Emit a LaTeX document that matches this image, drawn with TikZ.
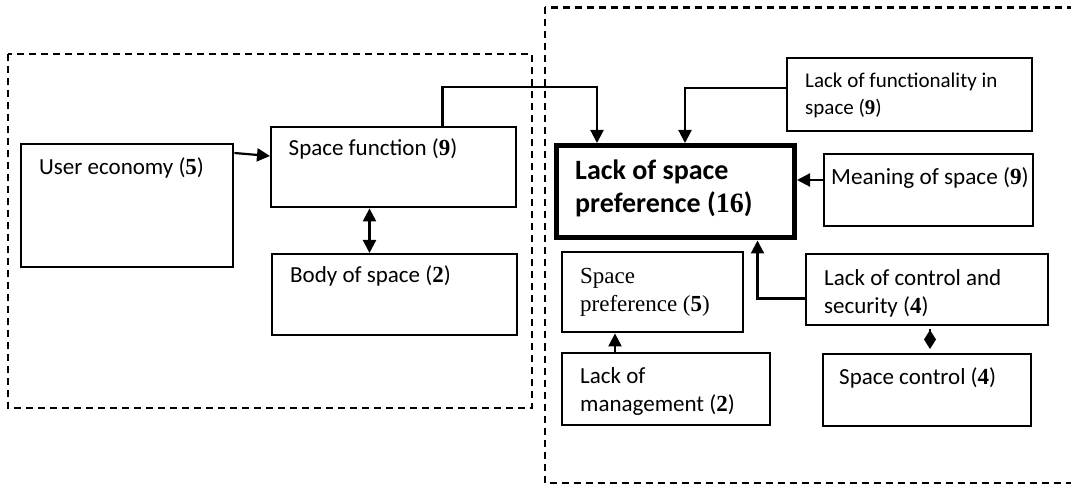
\documentclass[tikz,border=0pt]{standalone}
\usepackage{fontspec}
\setmainfont{Carlito}
\newfontfamily\serifnum{Liberation Serif}
\usetikzlibrary{arrows.meta,calc}
% bold serif counts inside the labels
\newcommand\cnt[1]{{\serifnum\bfseries #1}}
\begin{document}
\begin{tikzpicture}[x=1pt,y=-1pt,
  box/.style={draw=black,line width=2.4pt,inner sep=0pt,anchor=north west},
  txt/.style={anchor=base west,inner sep=0pt,font=\fontsize{23}{28.3}\selectfont},
  group/.style={draw=black,line width=2.4pt,dash pattern=on 7pt off 5pt},
  tip/.tip={Triangle[length=13pt,width=13pt]},
  conn/.style={line width=2.2pt,-tip},
  both/.style={line width=2.2pt,tip-tip},
  kitelink/.style={line width=2pt,-{Kite[length=19pt,width=12pt,inset=9.5pt]}},
]
\useasboundingbox (0,0) rectangle (1071,486);
\clip (0,0) rectangle (1071,486);

% dashed groupings
\draw[group] (8,54) rectangle (532,408);
\draw[group] (545,7.5) rectangle (1090,483);

% boxes
\node[box,minimum width=212pt,minimum height=123pt] (ue)  at (20,143)  {};
\node[box,minimum width=245pt,minimum height=80pt]  (sf)  at (270,126) {};
\node[box,minimum width=245pt,minimum height=81pt]  (bos) at (271,253) {};
\node[box,minimum width=245pt,minimum height=73pt]  (lf)  at (786,57)  {};
\node[box,minimum width=209pt,minimum height=72pt]  (ms)  at (823,153) {};
\node[box,line width=5pt,minimum width=238pt,minimum height=92.5pt] (main) at (554,143) {};
\node[box,minimum width=181pt,minimum height=80pt]  (sp)  at (561,251) {};
\node[box,minimum width=242pt,minimum height=71pt]  (lc)  at (805,253) {};
\node[box,minimum width=208pt,minimum height=72pt]  (lm)  at (561,352) {};
\node[box,minimum width=208pt,minimum height=72pt]  (sc)  at (822,353) {};

% labels
\node[txt] (ue-t)  at (39,174.3)  {User economy (\cnt{5})};
\node[txt] (sf-t)  at (288.5,156) {Space function (\cnt{9})};
\node[txt] (bos-t) at (290,282.3) {Body of space (\cnt{2})};
\node[txt,font=\fontsize{21}{27.7}\selectfont] (lf-t) at (805,87.3)
  {\begin{tabular}[t]{@{}l@{}}Lack of functionality in\\space (\cnt{9})\end{tabular}};
\node[txt,font=\fontsize{23.2}{28}\selectfont] (ms-t)  at (831,185) {Meaning of space (\cnt{9})};
\node[txt,font=\fontsize{28}{33}\selectfont\bfseries] (main-t) at (575,180)
  {\begin{tabular}[t]{@{}l@{}}Lack of space\\preference (\cnt{16})\end{tabular}};
\node[txt,font=\fontsize{23}{28.4}\selectfont\serifnum] (sp-t) at (580,283.3)
  {\begin{tabular}[t]{@{}l@{}}Space\\preference (\textbf{5})\end{tabular}};
\node[txt] (lc-t) at (824,285.7)
  {\begin{tabular}[t]{@{}l@{}}Lack of control and\\security (\cnt{4})\end{tabular}};
\node[txt] (lm-t) at (580,383.3)
  {\begin{tabular}[t]{@{}l@{}}Lack of\\management (\cnt{2})\end{tabular}};
\node[txt] (sc-t)  at (839,384.3) {Space control (\cnt{4})};

% connectors
\draw[conn] ($(ue.north east)+(0,10)$) -- ($(sf.north west)+(0,30)$);
\draw[both] ($(sf.south west)+(99.5,0)$) -- ($(bos.north west)+(98.5,0)$);
\draw[conn] ($(sf.north west)+(172.5,0)$) |- ($(main.north west)+(43,-56)$)
            -- ($(main.north west)+(43,0)$);
\draw[conn] ($(lf.north west)+(0,31)$) -| ($(main.north west)+(131,0)$);
\draw[conn] ($(ms.north west)+(0,27)$) -- ($(main.north east)+(0,37)$);
\draw[conn] ($(lc.north west)+(0,45.5)$) -| ($(main.south west)+(203.5,0)$);
\draw[conn] ($(lm.north west)+(54,0)$) -- ($(sp.south west)+(54,0)$);
\draw[kitelink] ($(lc.south west)+(125,3)$) -- ($(sc.north west)+(108,-4)$);
\end{tikzpicture}
\end{document}
